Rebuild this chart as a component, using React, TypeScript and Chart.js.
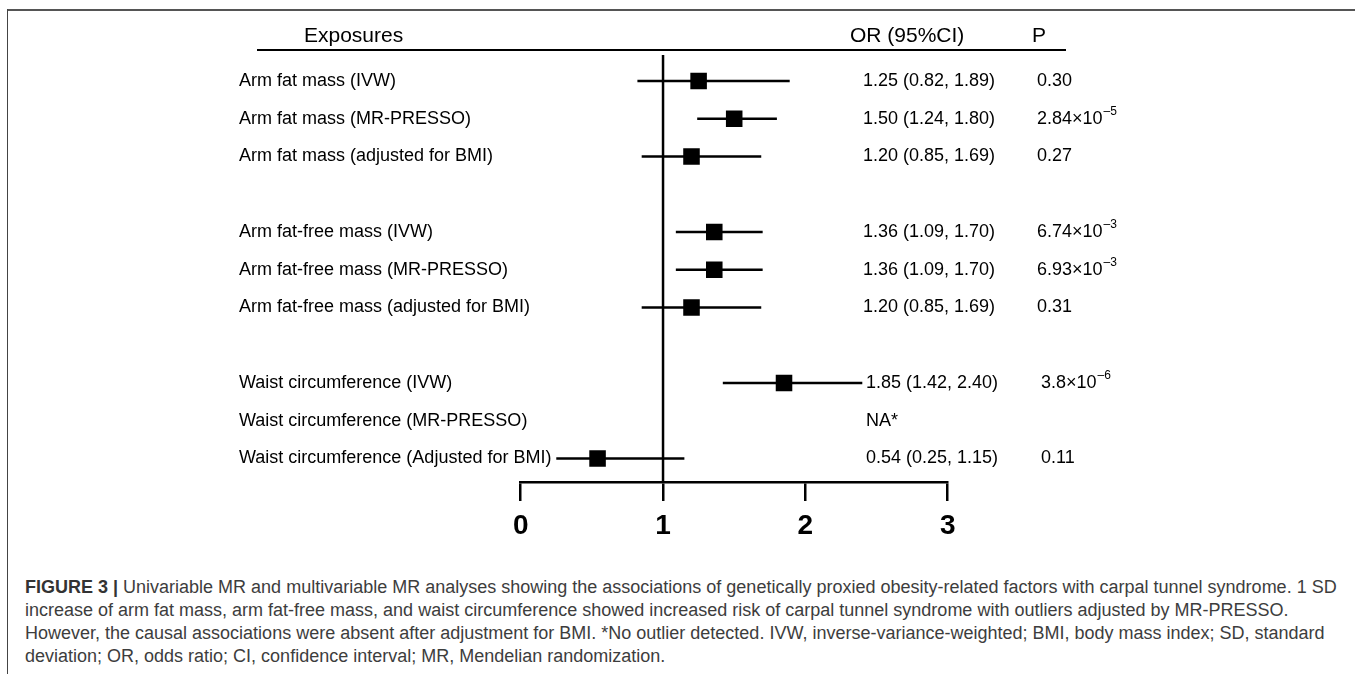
import React, { useEffect, useRef } from "react";
import { Chart, registerables } from "chart.js";

Chart.register(...registerables);

// ---------- data ----------
const exposures = [
  "Arm fat mass (IVW)",
  "Arm fat mass (MR-PRESSO)",
  "Arm fat mass (adjusted for BMI)",
  "",
  "Arm fat-free mass (IVW)",
  "Arm fat-free mass (MR-PRESSO)",
  "Arm fat-free mass (adjusted for BMI)",
  "",
  "Waist circumference (IVW)",
  "Waist circumference (MR-PRESSO)",
  "Waist circumference (Adjusted for BMI)",
];
const orEstimates: (number | null)[] = [1.25, 1.5, 1.2, null, 1.36, 1.36, 1.2, null, 1.85, null, 0.54];
const ciLower: (number | null)[] = [0.82, 1.24, 0.85, null, 1.09, 1.09, 0.85, null, 1.42, null, 0.25];
const ciUpper: (number | null)[] = [1.89, 1.8, 1.69, null, 1.7, 1.7, 1.69, null, 2.4, null, 1.15];
const orLabels = [
  "1.25 (0.82, 1.89)",
  "1.50 (1.24, 1.80)",
  "1.20 (0.85, 1.69)",
  "",
  "1.36 (1.09, 1.70)",
  "1.36 (1.09, 1.70)",
  "1.20 (0.85, 1.69)",
  "",
  "1.85 (1.42, 2.40)",
  "NA*",
  "0.54 (0.25, 1.15)",
];
const pMantissa = ["0.30", "2.84×10", "0.27", "", "6.74×10", "6.93×10", "0.31", "", "3.8×10", "", "0.11"];
const pExponent = ["", "–5", "", "", "–3", "–3", "", "", "–6", "", ""];
const xTicks = [0, 1, 2, 3];
const nullValue = 1;
const headers = ["Exposures", "OR (95%CI)", "P"];
const captionTitle = "FIGURE 3 |";
const captionLines = [
  " Univariable MR and multivariable MR analyses showing the associations of genetically proxied obesity-related factors with carpal tunnel syndrome. 1 SD",
  "increase of arm fat mass, arm fat-free mass, and waist circumference showed increased risk of carpal tunnel syndrome with outliers adjusted by MR-PRESSO.",
  "However, the causal associations were absent after adjustment for BMI. *No outlier detected. IVW, inverse-variance-weighted; BMI, body mass index; SD, standard",
  "deviation; OR, odds ratio; CI, confidence interval; MR, Mendelian randomization.",
];

// ---------- layout ----------
const FONT = '"Liberation Sans", Arial, Helvetica, sans-serif';
const Y_MIN = -0.689;
const Y_MAX = 10.622;

const textPlugin = {
  id: "forestText",
  afterDraw(chart: any) {
    const ctx = chart.ctx as CanvasRenderingContext2D;
    const ys = chart.scales.y;
    ctx.save();
    ctx.fillStyle = "#000";
    ctx.textBaseline = "middle";
    ctx.textAlign = "left";

    // header
    ctx.font = `21px ${FONT}`;
    ctx.fillText(headers[0], 304, 36);
    ctx.fillText(headers[1], 850, 36);
    ctx.fillText(headers[2], 1032, 36);
    ctx.strokeStyle = "#000";
    ctx.lineWidth = 2;
    ctx.beginPath();
    ctx.moveTo(257, 50);
    ctx.lineTo(1066, 50);
    ctx.stroke();

    // rows
    exposures.forEach((label, i) => {
      if (!label) return;
      const y = ys.getPixelForValue(i);
      ctx.font = `18px ${FONT}`;
      ctx.fillText(label, 239, y);
      const orX = i >= 8 ? 866 : 863;
      if (orLabels[i]) ctx.fillText(orLabels[i], orX, y);
      const pX = i >= 8 ? 1041 : 1037;
      if (pMantissa[i]) {
        ctx.fillText(pMantissa[i], pX, y);
        if (pExponent[i]) {
          const w = ctx.measureText(pMantissa[i]).width;
          ctx.font = `12px ${FONT}`;
          ctx.fillText(pExponent[i], pX + w + 1, y - 7);
        }
      }
    });
    ctx.restore();
  },
};

function ForestChart() {
  const ref = useRef<HTMLCanvasElement | null>(null);
  useEffect(() => {
    if (!ref.current) return;
    const datasets: any[] = [];
    datasets.push({
      data: [
        { x: nullValue, y: Y_MIN },
        { x: nullValue, y: Y_MAX },
      ],
      showLine: true,
      borderColor: "#000",
      borderWidth: 2.5,
      pointRadius: 0,
    });
    orEstimates.forEach((v, i) => {
      if (v == null || ciLower[i] == null || ciUpper[i] == null) return;
      datasets.push({
        data: [
          { x: ciLower[i], y: i },
          { x: ciUpper[i], y: i },
        ],
        showLine: true,
        borderColor: "#000",
        borderWidth: 2.5,
        pointRadius: 0,
      });
    });
    datasets.push({
      data: orEstimates
        .map((v, i) => (v == null ? null : { x: v, y: i }))
        .filter((d) => d !== null),
      pointStyle: "rect",
      pointRadius: 11.7,
      pointBackgroundColor: "#000",
      pointBorderWidth: 0,
      backgroundColor: "#000",
      borderWidth: 0,
      showLine: false,
    });

    const chart = new Chart(ref.current, {
      type: "scatter",
      data: { datasets },
      options: {
        animation: false,
        responsive: false,
        maintainAspectRatio: false,
        events: [],
        layout: {
          padding: { left: 520.7, right: 1355 - 947.7, top: 55, bottom: 18 },
        },
        plugins: {
          legend: { display: false },
          tooltip: { enabled: false },
        },
        scales: {
          x: {
            type: "linear",
            position: "bottom",
            min: 0,
            max: 3,
            afterBuildTicks: (s: any) => {
              s.ticks = xTicks.map((v) => ({ value: v }));
            },
            afterFit: (s: any) => {
              s.height = 60;
            },
            ticks: {
              color: "#000",
              padding: 8,
              font: { family: FONT, size: 28, weight: "bold" },
              callback: (v: any) => String(v),
            },
            grid: {
              display: true,
              drawOnChartArea: false,
              drawTicks: true,
              tickLength: 19,
              color: "#000",
              lineWidth: 2.5,
            },
            border: { display: true, color: "#000", width: 2.5 },
          },
          y: {
            type: "linear",
            display: false,
            reverse: true,
            min: Y_MIN,
            max: Y_MAX,
          },
        },
      } as any,
      plugins: [textPlugin],
    });
    return () => chart.destroy();
  }, []);
  return (
    <canvas
      ref={ref}
      width={1355}
      height={560}
      style={{ position: "absolute", left: 0, top: 0, width: 1355, height: 560 }}
    />
  );
}

export default function App() {
  return (
    <div
      style={{
        position: "absolute",
        left: 0,
        top: 0,
        width: 1355,
        height: 674,
        overflow: "hidden",
        background: "#fff",
      }}
    >
      <div style={{ position: "absolute", left: 7, top: 8.5, width: 1348, height: 2, background: "#555" }} />
      <div style={{ position: "absolute", left: 6.5, top: 9, width: 1.8, height: 665, background: "#444" }} />
      <ForestChart />
      {captionLines.map((line, i) => (
        <div
          key={i}
          style={{
            position: "absolute",
            left: 25,
            top: 575.5 + i * 23,
            fontFamily: FONT,
            fontSize: 18,
            lineHeight: "23px",
            color: "#3d3d3d",
            whiteSpace: "nowrap",
          }}
        >
          {i === 0 ? <b style={{ color: "#333" }}>{captionTitle}</b> : null}
          {line}
        </div>
      ))}
    </div>
  );
}
